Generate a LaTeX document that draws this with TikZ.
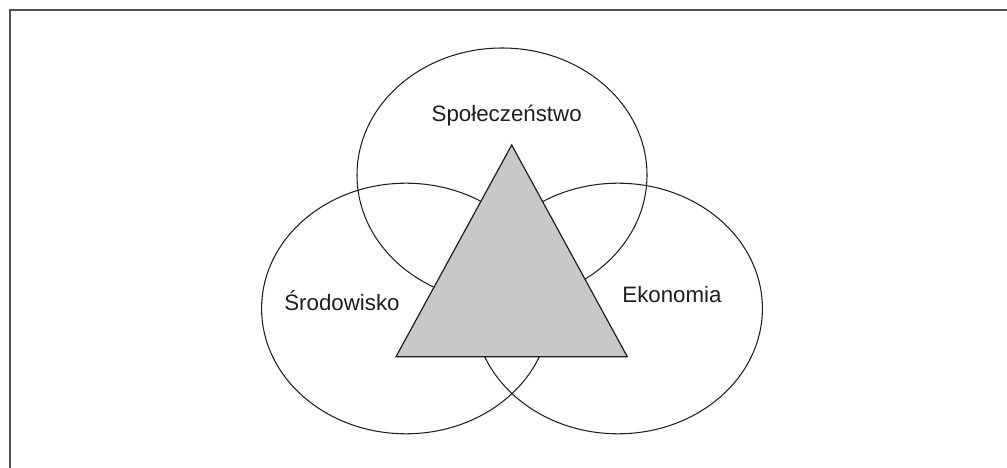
\documentclass[tikz,border=0pt]{standalone}
\usepackage{fontspec}
\setmainfont{Liberation Sans}
\definecolor{framegray}{HTML}{505050}
\definecolor{trifill}{HTML}{C8C8CA}
\definecolor{ink}{HTML}{1E1E1E}
\tikzset{
	ring/.style={draw=ink,line width=1.05pt},
	label/.style={rectangle,inner sep=0pt,anchor=base,text=ink,font=\fontsize{22.3}{26}\selectfont},
}
\begin{document}
\begin{tikzpicture}[x=1pt,y=-1pt]
	\useasboundingbox (0,0) rectangle (1007,468);
	
	%frame
	\draw[framegray,line width=2pt] (9.5,468) -- (9.5,10.5) -- (1007,10.5);
	%circles
	\draw[ring] (502,175) ellipse [x radius=145pt,y radius=127pt];
	\draw[ring] (406,308.5) ellipse [x radius=144.4pt,y radius=125.3pt];
	\draw[ring] (618,308.5) ellipse [x radius=144.4pt,y radius=125.3pt];
	%triangle
	\draw[draw=ink,fill=trifill,line width=1.2pt] (511.7,145) -- (627.3,356.7) -- (396,356.7) -- cycle;
	%labels
	\node[label](society) at (506.7,121.7) {Społeczeństwo};
	\node[label](environment) at (342,310.7) {Środowisko};
	\node[label](economy) at (672,302.7) {Ekonomia};
\end{tikzpicture}
\end{document}
